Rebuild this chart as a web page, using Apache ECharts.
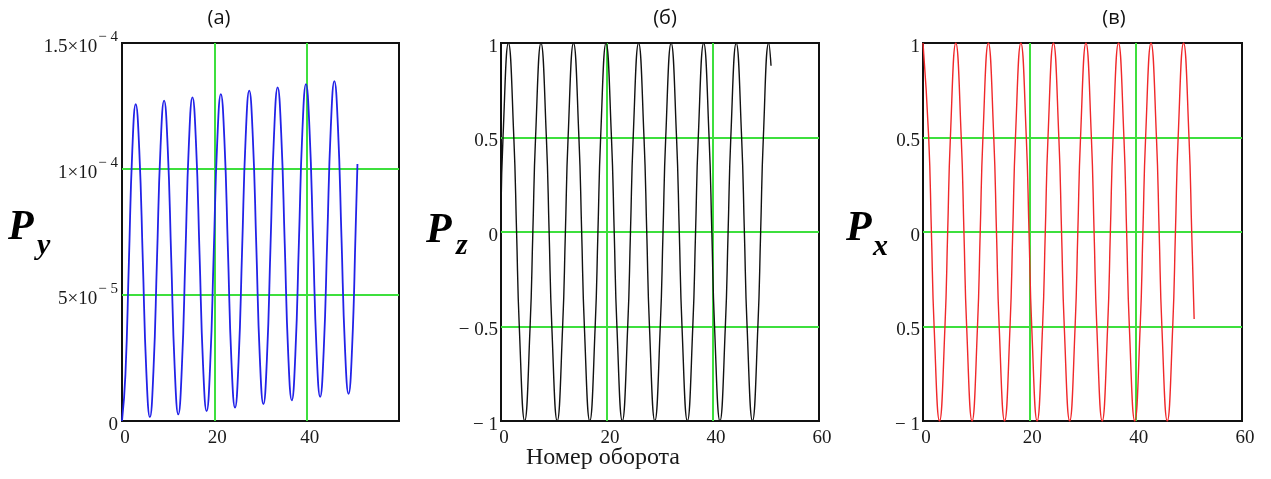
<!DOCTYPE html>
<html>
<head>
<meta charset="utf-8">
<title>Py Pz Px</title>
<script src="https://cdn.jsdelivr.net/npm/echarts@6/dist/echarts.min.js"></script>
<style>
  html, body { margin: 0; padding: 0; background: #fff; }
  #main { width: 1271px; height: 479px; }
</style>
</head>
<body>
<div id="main"></div>
<script>
// values: [turn number, value]
var pyData = [
  [0, 0], [0.74, 1.84e-5], [1.49, 6.29e-5], [2.23, 10.73e-5], [2.97, 12.57e-5],
  [3.74, 10.76e-5], [4.51, 6.36e-5], [5.27, 1.96e-5], [6.04, 0.15e-5],
  [6.81, 1.98e-5], [7.58, 6.43e-5], [8.35, 10.88e-5], [9.12, 12.71e-5],
  [9.89, 10.89e-5], [10.66, 6.48e-5], [11.42, 2.08e-5], [12.19, 0.26e-5],
  [12.96, 2.10e-5], [13.73, 6.55e-5], [14.49, 11.00e-5], [15.26, 12.84e-5],
  [16.03, 11.02e-5], [16.80, 6.61e-5], [17.56, 2.21e-5], [18.33, 0.39e-5],
  [19.10, 2.23e-5], [19.87, 6.68e-5], [20.64, 11.13e-5], [21.41, 12.97e-5],
  [22.18, 11.15e-5], [22.95, 6.75e-5], [23.71, 2.35e-5], [24.48, 0.53e-5],
  [25.25, 2.37e-5], [26.02, 6.82e-5], [26.79, 11.27e-5], [27.56, 13.11e-5],
  [28.33, 11.29e-5], [29.10, 6.89e-5], [29.86, 2.49e-5], [30.63, 0.67e-5],
  [31.40, 2.51e-5], [32.17, 6.96e-5], [32.94, 11.40e-5], [33.71, 13.24e-5],
  [34.48, 11.43e-5], [35.25, 7.03e-5], [36.01, 2.63e-5], [36.78, 0.82e-5],
  [37.55, 2.65e-5], [38.32, 7.10e-5], [39.08, 11.54e-5], [39.85, 13.37e-5],
  [40.62, 11.56e-5], [41.39, 7.17e-5], [42.15, 2.77e-5], [42.92, 0.96e-5],
  [43.69, 2.79e-5], [44.46, 7.23e-5], [45.23, 11.66e-5], [46.00, 13.49e-5],
  [46.77, 11.68e-5], [47.54, 7.29e-5], [48.30, 2.89e-5], [49.07, 1.08e-5],
  [49.84, 2.91e-5], [50.61, 7.60e-5], [51.00, 10.20e-5]
];

var pzData = [
  [0, 0.12], [0.38, 0.5], [1.40, 1], [2.42, 0.5], [2.94, 0], [3.45, -0.5], [4.47, -1], [5.49, -0.5], [6.01, 0], [6.52, 0.5],
  [7.54, 1], [8.56, 0.5], [9.08, 0], [9.59, -0.5], [10.61, -1], [11.63, -0.5], [12.15, 0], [12.66, 0.5],
  [13.68, 1], [14.70, 0.5], [15.22, 0], [15.73, -0.5], [16.75, -1], [17.77, -0.5], [18.29, 0], [18.80, 0.5],
  [19.82, 1], [20.84, 0.5], [21.36, 0], [21.87, -0.5], [22.89, -1], [23.91, -0.5], [24.43, 0], [24.94, 0.5],
  [25.96, 1], [26.98, 0.5], [27.50, 0], [28.01, -0.5], [29.03, -1], [30.05, -0.5], [30.57, 0], [31.08, 0.5],
  [32.10, 1], [33.12, 0.5], [33.64, 0], [34.15, -0.5], [35.17, -1], [36.19, -0.5], [36.71, 0], [37.22, 0.5],
  [38.24, 1], [39.26, 0.5], [39.78, 0], [40.29, -0.5], [41.31, -1], [42.33, -0.5], [42.85, 0], [43.36, 0.5],
  [44.38, 1], [45.40, 0.5], [45.92, 0], [46.43, -0.5], [47.45, -1], [48.47, -0.5], [48.99, 0], [49.50, 0.5],
  [50.52, 1], [50.95, 0.88]
];

var pxData = [
  [0, 1], [1.07, 0.5], [1.58, 0], [2.09, -0.5], [3.11, -1], [4.13, -0.5], [4.64, 0], [5.15, 0.5],
  [6.17, 1], [7.19, 0.5], [7.70, 0], [8.21, -0.5], [9.23, -1], [10.25, -0.5], [10.76, 0], [11.27, 0.5],
  [12.29, 1], [13.31, 0.5], [13.82, 0], [14.33, -0.5], [15.35, -1], [16.37, -0.5], [16.88, 0], [17.39, 0.5],
  [18.41, 1], [19.43, 0.5], [19.94, 0], [20.45, -0.5], [21.47, -1], [22.49, -0.5], [23.00, 0], [23.51, 0.5],
  [24.53, 1], [25.55, 0.5], [26.06, 0], [26.57, -0.5], [27.59, -1], [28.61, -0.5], [29.12, 0], [29.63, 0.5],
  [30.65, 1], [31.67, 0.5], [32.18, 0], [32.69, -0.5], [33.71, -1], [34.73, -0.5], [35.24, 0], [35.75, 0.5],
  [36.77, 1], [37.79, 0.5], [38.30, 0], [38.81, -0.5], [39.83, -1], [40.85, -0.5], [41.36, 0], [41.87, 0.5],
  [42.89, 1], [43.91, 0.5], [44.42, 0], [44.93, -0.5], [45.95, -1], [46.97, -0.5], [47.48, 0], [47.99, 0.5],
  [49.01, 1], [50.03, 0.5], [50.54, 0], [51.00, -0.46]
];

// tick labels, "^" marks the exponent
var pyTickText = ['0', '5×10^− 5', '1×10^− 4', '1.5×10^− 4'];
var pzTickText = ['− 1', '− 0.5', '0', '0.5', '1'];
var pxTickText = ['− 1', '0.5', '0', '0.5', '1'];

var panelTitles = ['(a)', '(б)', '(в)'];
var xName = 'Номер оборота';

var myChart = echarts.init(document.getElementById('main'));

var green = '#3ddf3d';
var serif = '"Liberation Serif", "DejaVu Serif", serif';

function xAxisOf(gridIndex, showMax) {
  return {
    type: 'value', gridIndex: gridIndex,
    min: 0, max: 60, interval: 20,
    axisLine: { show: false },
    axisTick: { show: false },
    axisLabel: {
      showMaxLabel: showMax,
      margin: 8, padding: [0, 0, 0, 6],
      fontFamily: serif, fontSize: 19, color: '#1a1a1a'
    },
    splitLine: { show: true, showMinLine: false, showMaxLine: false, lineStyle: { color: green, width: 2 } }
  };
}

function yAxisOf(gridIndex, min, max, step, texts, margin) {
  return {
    type: 'value', gridIndex: gridIndex,
    min: min, max: max, interval: step,
    axisLine: { show: false },
    axisTick: { show: false },
    axisLabel: {
      margin: margin, padding: [8, 0, 0, 0],
      fontFamily: serif, fontSize: 19, color: '#1a1a1a',
      formatter: function (v) {
        var t = texts[Math.round((v - min) / step)] || '';
        var parts = t.split('^');
        return parts.length > 1 ? parts[0] + '{e|' + parts[1] + '}' : t;
      },
      rich: {
        e: { fontFamily: serif, fontSize: 15, color: '#1a1a1a', padding: [0, 0, 20, 1] }
      }
    },
    splitLine: { show: true, showMinLine: false, showMaxLine: false, lineStyle: { color: green, width: 2 } }
  };
}

function gridOf(left, width) {
  return { left: left, top: 43, width: width, height: 378, show: true, borderColor: '#111', borderWidth: 2, backgroundColor: 'transparent' };
}

function lineOf(idx, data, color, width) {
  return {
    type: 'line', xAxisIndex: idx, yAxisIndex: idx,
    data: data, showSymbol: false, smooth: 0.5,
    lineStyle: { color: color, width: width }
  };
}

function label(x, y, text, size, font, extra) {
  var style = { x: x, y: y, text: text, fontSize: size, fontFamily: font, fill: '#111', align: 'left', verticalAlign: 'middle' };
  for (var k in extra) style[k] = extra[k];
  return { type: 'text', style: style, z: 10 };
}

var bigP = { fontWeight: 'bold', fontStyle: 'italic', fill: '#000' };
var sans = '"Open Sans", "Noto Sans", sans-serif';

var option = {
  animation: false,
  backgroundColor: '#fff',
  grid: [gridOf(122, 277), gridOf(501, 318), gridOf(923, 319)],
  xAxis: [xAxisOf(0, false), xAxisOf(1, true), xAxisOf(2, true)],
  yAxis: [
    yAxisOf(0, 0, 1.5e-4, 5e-5, pyTickText, 4),
    yAxisOf(1, -1, 1, 0.5, pzTickText, 3),
    yAxisOf(2, -1, 1, 0.5, pxTickText, 3)
  ],
  series: [
    lineOf(0, pyData, '#2222e8', 1.8),
    lineOf(1, pzData, '#111', 1.4),
    lineOf(2, pxData, '#f0282a', 1.4)
  ],
  graphic: [
    label(219, 18, panelTitles[0], 20, sans, { align: 'center', fill: '#111' }),
    label(665, 18, panelTitles[1], 20, sans, { align: 'center', fill: '#111' }),
    label(1114, 18, panelTitles[2], 20, sans, { align: 'center', fill: '#111' }),
    label(603, 458, xName, 24, serif, { align: 'center', fill: '#1a1a1a' }),
    label(8, 228, 'P', 42, serif, bigP),
    label(37, 246, 'y', 30, serif, bigP),
    label(426, 231, 'P', 42, serif, bigP),
    label(456, 246, 'z', 30, serif, bigP),
    label(846, 229, 'P', 42, serif, bigP),
    label(873, 247, 'x', 30, serif, bigP)
  ]
};

myChart.setOption(option);
</script>
</body>
</html>
